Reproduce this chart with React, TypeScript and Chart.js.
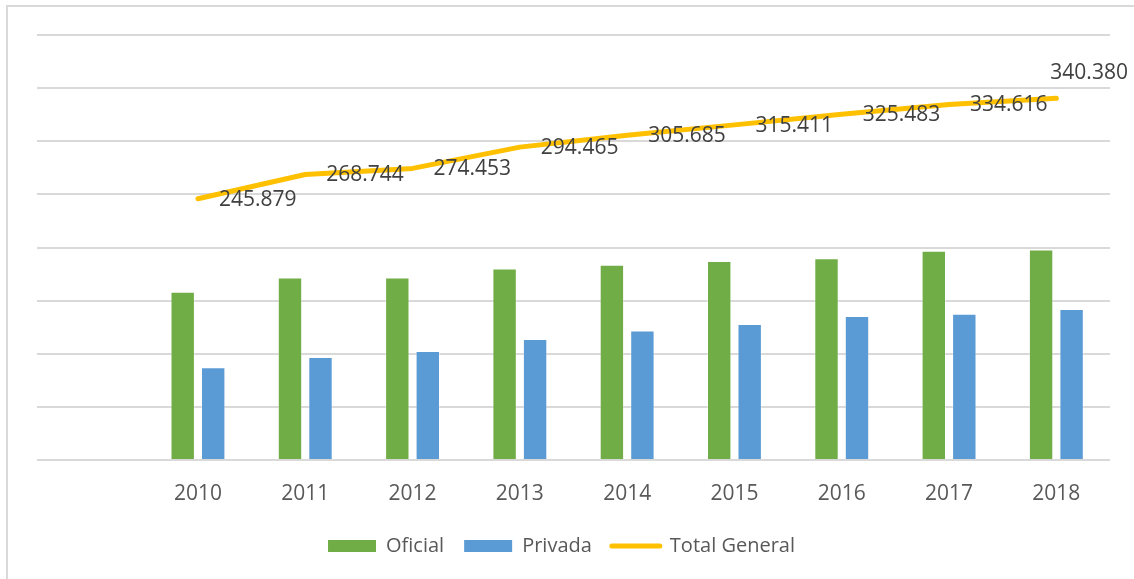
import { useEffect, useRef } from 'react';
import { Chart, registerables } from 'chart.js';

Chart.register(...registerables);

const categories = ['', '2010', '2011', '2012', '2013', '2014', '2015', '2016', '2017', '2018'];
const oficial = [null, 158300, 171700, 171700, 180200, 183700, 187400, 189800, 197000, 198100];
const privada = [null, 87300, 96900, 102700, 113900, 122000, 128000, 135600, 137600, 142200];
const totalGeneral = [null, 245879, 268744, 274453, 294465, 305685, 315411, 325483, 334616, 340380];
const totalLabels = ['', '245.879', '268.744', '274.453', '294.465', '305.685', '315.411', '325.483', '334.616', '340.380'];
const yMax = 400000;
const yStep = 50000;

const FONT = "'Open Sans', 'DejaVu Sans', sans-serif";

const totalLabelPlugin = {
  id: 'totalLabels',
  afterLayout(chart: any) {
    if (chart.legend) {
      chart.legend.left -= 12;
      chart.legend.right -= 12;
    }
  },
  afterDatasetsDraw(chart: any) {
    const meta = chart.getDatasetMeta(2);
    const ctx = chart.ctx;
    ctx.save();
    ctx.font = `21px ${FONT}`;
    ctx.fillStyle = '#404040';
    ctx.textBaseline = 'middle';
    ctx.textAlign = 'left';
    meta.data.forEach((pt: any, i: number) => {
      const txt = totalLabels[i];
      if (!txt || pt.skip) return;
      const last = i === totalLabels.length - 1;
      const x = pt.x + (last ? -6 : 21);
      const y = pt.y + (last ? -25 : 1);
      ctx.fillText(txt, x, y);
    });
    ctx.restore();
  },
};

export default function App() {
  const ref = useRef<HTMLCanvasElement | null>(null);

  useEffect(() => {
    if (!ref.current) return;
    const chart = new Chart(ref.current, {
      type: 'bar',
      data: {
        labels: categories,
        datasets: [
          {
            type: 'bar',
            label: 'Oficial',
            data: oficial,
            backgroundColor: '#70AD47',
            borderColor: 'rgba(255,255,255,0.35)',
            borderWidth: 1,
            categoryPercentage: 0.5685,
            barPercentage: 0.8,
          },
          {
            type: 'bar',
            label: 'Privada',
            data: privada,
            backgroundColor: '#5B9BD5',
            borderColor: 'rgba(255,255,255,0.35)',
            borderWidth: 1,
            categoryPercentage: 0.5685,
            barPercentage: 0.8,
          },
          {
            type: 'line',
            label: 'Total General',
            data: totalGeneral,
            borderColor: '#FFC000',
            backgroundColor: '#FFC000',
            borderWidth: 5,
            borderCapStyle: 'round',
            borderJoinStyle: 'round',
            pointRadius: 0,
            pointHoverRadius: 0,
            tension: 0,
            fill: false,
          },
        ] as any,
      },
      options: {
        responsive: false,
        animation: false,
        layout: { padding: { left: 37, right: 24, top: 35, bottom: 13 } },
        scales: {
          x: {
            type: 'category',
            offset: true,
            grid: { display: false, drawTicks: false },
            border: { display: false },
            afterFit: (scale: any) => {
              scale.height = 56;
            },
            ticks: {
              color: '#595959',
              font: { family: FONT, size: 21 },
              padding: 21,
              maxRotation: 0,
              autoSkip: false,
            },
          },
          y: {
            min: 0,
            max: yMax,
            ticks: { display: false, stepSize: yStep },
            grid: { color: '#d9d9d9', lineWidth: 2, drawTicks: false },
            border: { display: false },
          },
        },
        plugins: {
          tooltip: { enabled: false },
          legend: {
            position: 'bottom',
            labels: {
              color: '#595959',
              font: { family: FONT, size: 20 },
              usePointStyle: true,
              pointStyleWidth: 48,
              boxHeight: 12,
              padding: 20,
              generateLabels: (c: any) => {
                const items = Chart.defaults.plugins.legend.labels.generateLabels(c);
                return items.map((it: any) => {
                  if (it.datasetIndex === 2) {
                    return { ...it, pointStyle: 'line', lineCap: 'round', lineWidth: 5, strokeStyle: '#FFC000' };
                  }
                  return { ...it, pointStyle: 'rect', lineWidth: 0 };
                });
              },
            },
          },
        },
      } as any,
      plugins: [totalLabelPlugin],
    });
    return () => chart.destroy();
  }, []);

  return (
    <div style={{ position: 'fixed', left: 0, top: 0, width: 1134, height: 579, background: '#fff', overflow: 'hidden' }}>
      <div
        style={{
          position: 'absolute',
          left: 6,
          top: 5,
          right: 0,
          bottom: 0,
          borderLeft: '2px solid #d9d9d9',
          borderTop: '2px solid #d9d9d9',
        }}
      />
      <canvas ref={ref} width={1134} height={579} style={{ position: 'absolute', left: 0, top: 0 }} />
    </div>
  );
}
